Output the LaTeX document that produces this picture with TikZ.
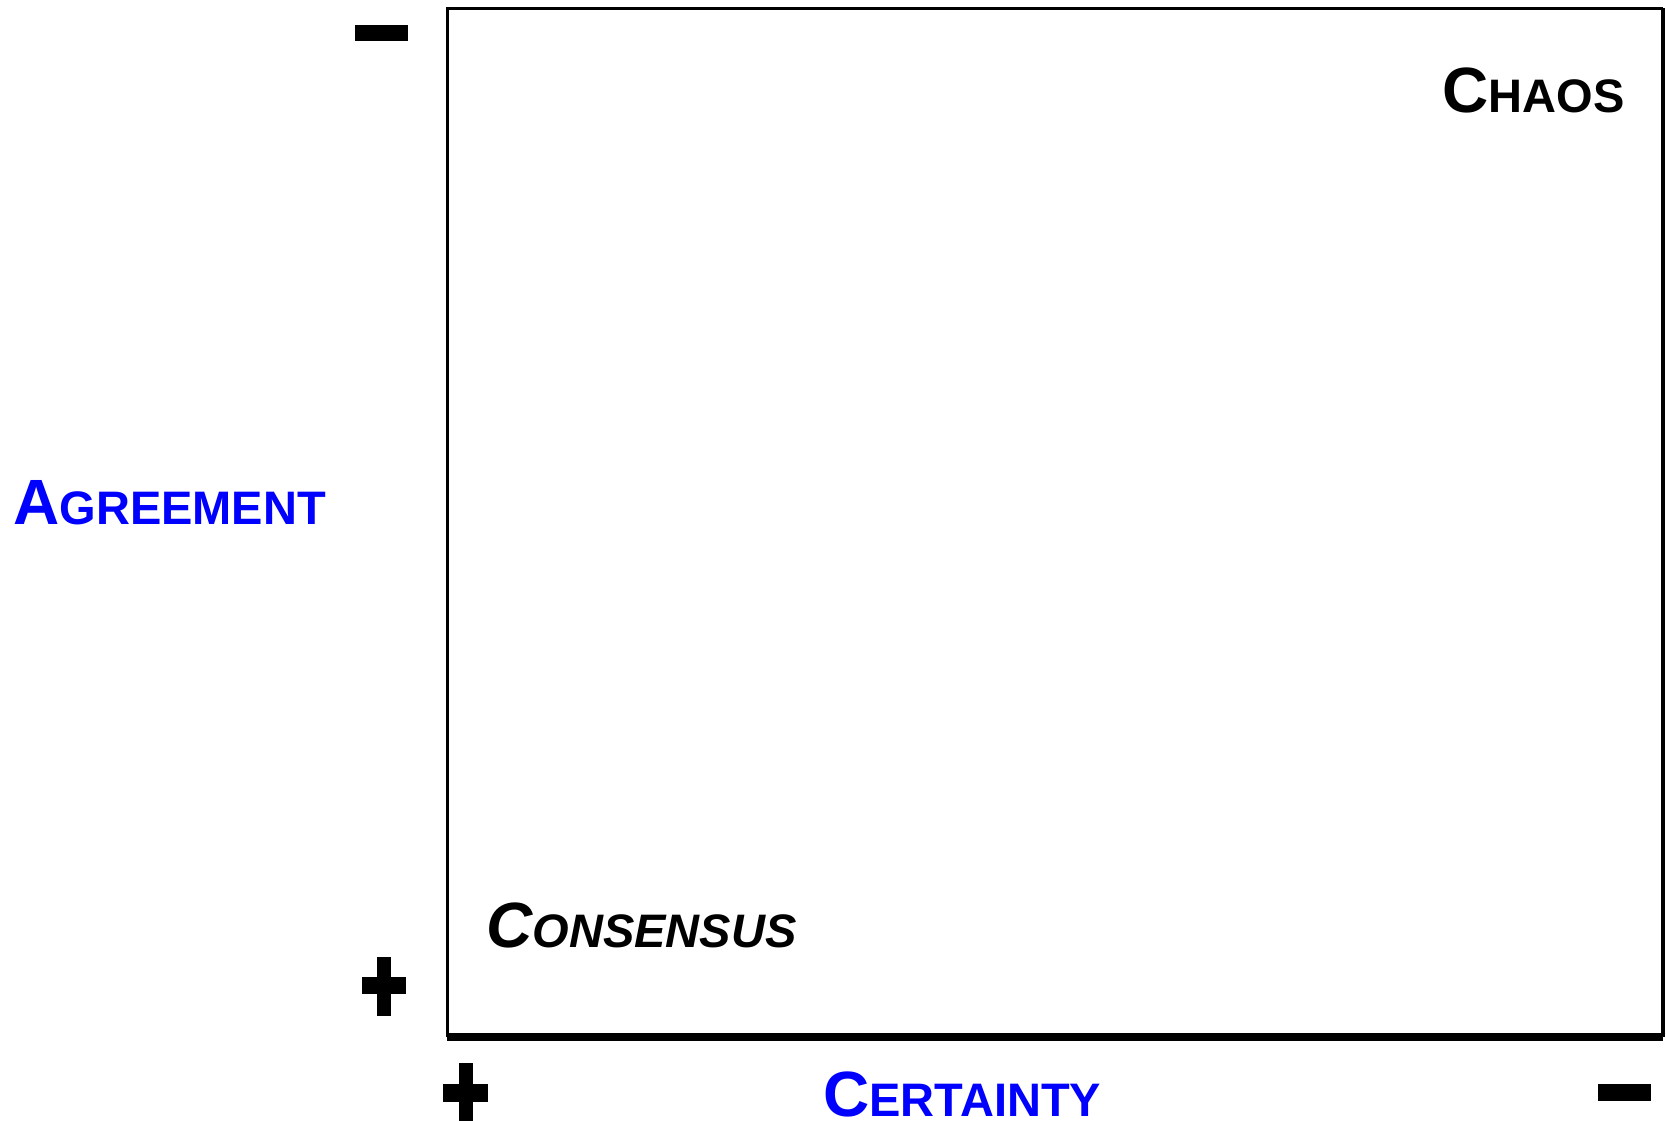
\documentclass[tikz,border=0pt]{standalone}
\usepackage{fontspec}
\setmainfont{Liberation Sans}
\definecolor{axisblue}{RGB}{0,0,255}
\newcommand{\smcap}[2]{{\fontsize{32}{34}\selectfont #1}{\fontsize{23.5}{26}\selectfont #2}}
\tikzset{
    lbl/.style={inner sep=0pt, anchor=base west, font=\bfseries},
    axislbl/.style={lbl, text=axisblue},
    sign/.style={fill=black, draw=none}
}

\begin{document}
\begin{tikzpicture}[x=0.5pt, y=-0.5pt]
                \useasboundingbox (0, 0) rectangle (1666, 1120);
                % Frame of the chart:
                \coordinate (TL) at (447, 8);
                \coordinate (TR) at (1663, 8);
                \coordinate (BL) at (447, 1037);
                \coordinate (BR) at (1663, 1037);
                \draw[line width=1.5pt] (BL) -- (TL) -- (TR);
                \draw[line width=2.2pt] (TR) -- (BR);
                \draw[line width=4pt] (BL) -- (BR);
                % Signs on the axes:
                \fill[sign] (355, 25) rectangle (408, 41);
                \fill[sign] (1598, 1084) rectangle (1651, 1101);
                \fill[sign] (362, 977) rectangle (406, 994);
                \fill[sign] (377, 957) rectangle (391, 1016);
                \fill[sign] (443, 1084) rectangle (488, 1102);
                \fill[sign] (459, 1063) rectangle (473, 1122);
                % Labels:
                \node[axislbl] (agree) at (13, 524) {\smcap{A}{GREEMENT}};
                \node[axislbl] (cert) at (823, 1116) {\smcap{C}{ERTAINTY}};
                \node[lbl] (chaos) at (1442, 112) {\smcap{C}{HAOS}};
                \node[lbl, font=\bfseries\itshape] (cons) at (486, 947) {\smcap{C}{ONSENSUS}};
            \end{tikzpicture}
\end{document}
